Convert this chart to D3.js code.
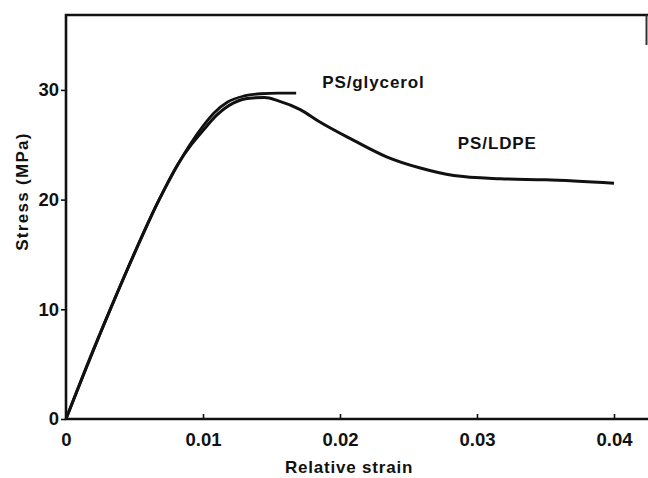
<!DOCTYPE html>
<html>
<head>
<meta charset="utf-8">
<script src="https://cdn.jsdelivr.net/npm/d3@7"></script>
<style>
  body { margin: 0; background: #fff; }
  svg text { font-family: "Liberation Sans", Arial, sans-serif; font-weight: bold; fill: #111; }
  .axis path, .axis line { stroke: #111; }
</style>
</head>
<body>
<div id="container"></div>
<script>
// strain (-) vs stress (MPa)
const ldpeStrain = [0, 0.0017, 0.0033, 0.005, 0.0068, 0.0082, 0.0092, 0.0100, 0.0110, 0.0122, 0.0134,
  0.0145, 0.0155, 0.0171, 0.0185, 0.021, 0.0234, 0.0258, 0.0283, 0.0317, 0.035, 0.04];
const ldpeStress = [0, 5.4, 10.2, 15.1, 20, 23.3, 25.1, 26.3, 27.7, 28.8, 29.25,
  29.3, 29.0, 28.2, 27.1, 25.4, 23.9, 22.9, 22.2, 21.9, 21.8, 21.5];

const glyStrain = [0, 0.0033, 0.0068, 0.0092, 0.0100, 0.0108, 0.0118, 0.0130, 0.0142, 0.0155, 0.0168];
const glyStress = [0, 10.2, 20, 25.3, 26.7, 27.9, 28.9, 29.45, 29.65, 29.7, 29.7];

const xTicks = [0, 0.01, 0.02, 0.03, 0.04];
const xTickLabels = ['0', '0.01', '0.02', '0.03', '0.04'];
const yTicks = [0, 10, 20, 30];

const labels = [
  { text: 'PS/glycerol', strain: 0.0187, stress: 30.2 },
  { text: 'PS/LDPE', strain: 0.0286, stress: 24.6 }
];

const W = 648, H = 478;
const margin = { top: 15, right: 0, bottom: 59, left: 66 };

const svg = d3.select('#container').append('svg')
  .attr('width', W)
  .attr('height', H);

const x = d3.scaleLinear().domain([0, 0.0425]).range([margin.left, 648.25]);
const y = d3.scaleLinear().domain([0, 36.83]).range([H - margin.bottom, margin.top]);

// frame (left, top, bottom)
svg.append('path')
  .attr('d', `M${W},${y(36.83)}H${x(0)}V${y(0)}H${W}`)
  .attr('fill', 'none')
  .attr('stroke', '#111')
  .attr('stroke-width', 2.6);
svg.append('line')
  .attr('x1', 646.5).attr('x2', 646.5)
  .attr('y1', y(36.83)).attr('y2', 45)
  .attr('stroke', '#333').attr('stroke-width', 2);

svg.append('g')
  .attr('class', 'axis')
  .attr('transform', `translate(0,${y(0)})`)
  .call(d3.axisBottom(x).tickValues(xTicks).tickSizeInner(-5).tickSizeOuter(0).tickPadding(14)
    .tickFormat((d, i) => xTickLabels[i]))
  .call(g => g.select('.domain').remove())
  .call(g => g.selectAll('line').attr('stroke-width', 1.6))
  .call(g => g.selectAll('text').attr('font-size', 18.5).attr('font-family', null));

svg.append('g')
  .attr('class', 'axis')
  .attr('transform', `translate(${x(0)},0)`)
  .call(d3.axisLeft(y).tickValues(yTicks).tickSizeInner(5).tickSizeOuter(0).tickPadding(2)
    .tickFormat(d3.format('d')))
  .call(g => g.select('.domain').remove())
  .call(g => g.selectAll('line').attr('stroke-width', 1.6))
  .call(g => g.selectAll('text').attr('font-size', 18.5).attr('font-family', null));

const line = d3.line()
  .x(d => x(d[0]))
  .y(d => y(d[1]))
  .curve(d3.curveMonotoneX);

svg.append('path')
  .datum(d3.zip(glyStrain, glyStress))
  .attr('d', line)
  .attr('fill', 'none')
  .attr('stroke', '#111')
  .attr('stroke-width', 2.8);

svg.append('path')
  .datum(d3.zip(ldpeStrain, ldpeStress))
  .attr('d', line)
  .attr('fill', 'none')
  .attr('stroke', '#111')
  .attr('stroke-width', 3);

svg.selectAll('.lbl')
  .data(labels)
  .enter().append('text')
  .attr('class', 'lbl')
  .attr('x', d => x(d.strain))
  .attr('y', d => y(d.stress))
  .attr('font-size', 17)
  .attr('letter-spacing', 0.9)
  .text(d => d.text);

svg.append('text')
  .attr('x', 349)
  .attr('y', 473)
  .attr('text-anchor', 'middle')
  .attr('font-size', 17)
  .attr('letter-spacing', 0.8)
  .text('Relative strain');

svg.append('text')
  .attr('transform', `translate(28,${(130 + 253) / 2}) rotate(-90)`)
  .attr('text-anchor', 'middle')
  .attr('font-size', 17)
  .attr('letter-spacing', 1.3)
  .text('Stress (MPa)');
</script>
</body>
</html>
